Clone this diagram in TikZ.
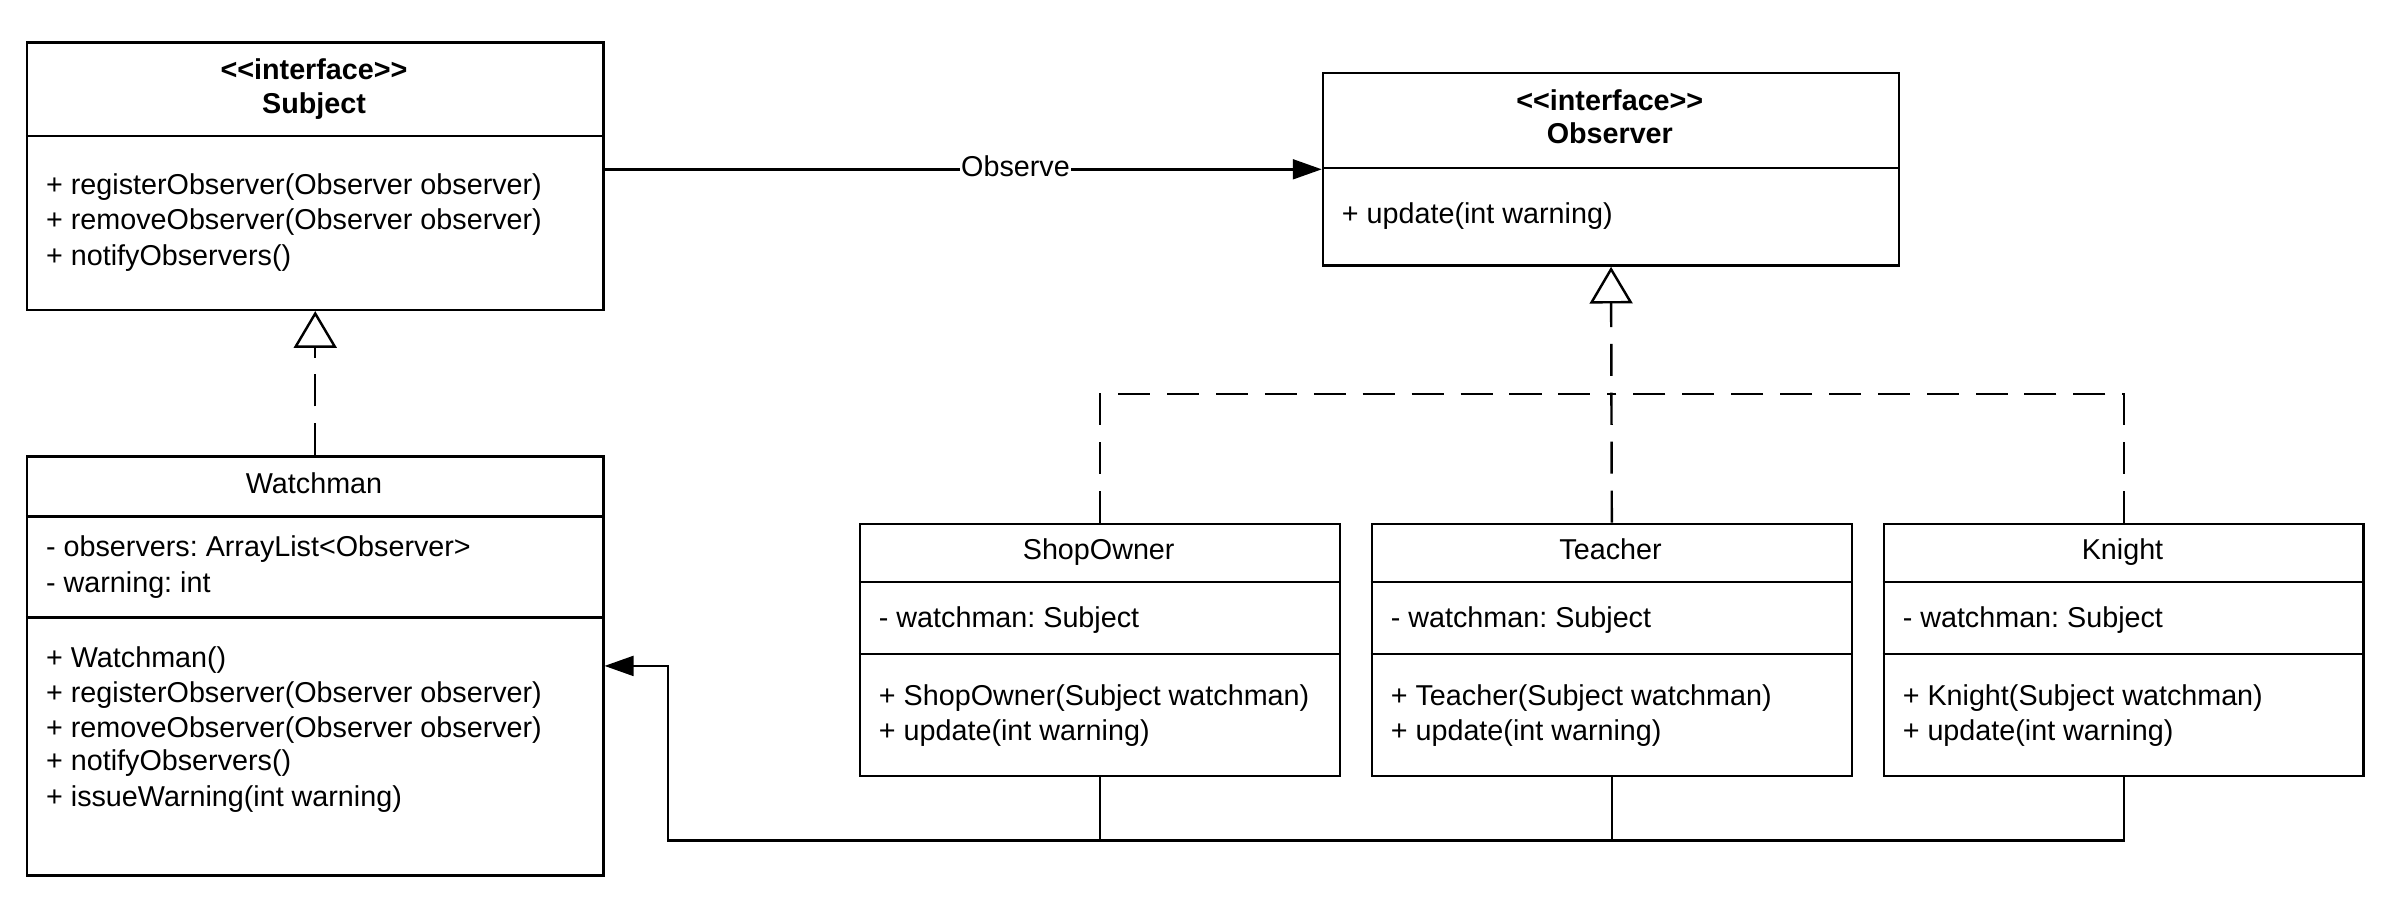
\documentclass[tikz,border=0pt]{standalone}
\usepackage{fontspec}
\setmainfont{Liberation Sans}
\usetikzlibrary{arrows.meta}
\frenchspacing
\begin{document}
\begin{tikzpicture}[x=1pt,y=-1pt,
  classbox/.style={draw, line width=1.6pt, rectangle, inner sep=0pt, anchor=north west},
  divider/.style={line width=1.6pt},
  txt/.style={anchor=base west, inner sep=0pt, font=\fontsize{18.8}{23}\selectfont},
  ttl/.style={anchor=base, inner sep=0pt, font=\fontsize{18.8}{23}\selectfont},
  ttlb/.style={anchor=base, inner sep=0pt, font=\fontsize{18.8}{23}\selectfont\bfseries},
  assoc/.style={line width=1.6pt, -{Triangle[length=19pt,width=13pt]}},
  real/.style={line width=1.6pt, dash pattern=on 21pt off 11pt, -{Triangle[open,length=24pt,width=28pt,fill=white]}},
  realline/.style={line width=1.6pt, dash pattern=on 21pt off 11pt},
  plain/.style={line width=1.6pt}
]
\useasboundingbox (0,0) rectangle (1568,594);

% Subject
\node[classbox, minimum width=377pt, minimum height=175pt] (subject) at (17,27) {};
\draw[divider] (17,89) -- (394,89);
\node[ttlb] (subjst) at (205.5,52) {{<}{<}interface{>}{>}};
\node[ttlb] (subjname) at (205.5,74) {Subject};
\node[txt] (subjm1) at (30,127.5) {+ registerObserver(Observer observer)};
\node[txt] (subjm2) at (30,150.5) {+ removeObserver(Observer observer)};
\node[txt] (subjm3) at (30,173.5) {+ notifyObservers()};

% Observer
\node[classbox, minimum width=377pt, minimum height=126pt] (observer) at (865,47) {};
\draw[divider] (865,110) -- (1242,110);
\node[ttlb] (obsst) at (1053.5,72) {{<}{<}interface{>}{>}};
\node[ttlb] (obsname) at (1053.5,94) {Observer};
\node[txt] (obsm1) at (878,146.5) {+ update(int warning)};

% Watchman
\node[classbox, minimum width=377pt, minimum height=274pt] (watchman) at (17,298) {};
\draw[divider] (17,338) -- (394,338);
\draw[divider] (17,404) -- (394,404);
\node[ttl] (wname) at (205.5,323) {Watchman};
\node[txt] (wa1) at (30,364.5) {- observers: ArrayList<Observer>};
\node[txt] (wa2) at (30,387.5) {- warning: int};
\node[txt] (wm1) at (30,436.5) {+ Watchman()};
\node[txt] (wm2) at (30,459.5) {+ registerObserver(Observer observer)};
\node[txt] (wm3) at (30,482.5) {+ removeObserver(Observer observer)};
\node[txt] (wm4) at (30,504.5) {+ notifyObservers()};
\node[txt] (wm5) at (30,527.5) {+ issueWarning(int warning)};

% ShopOwner
\node[classbox, minimum width=314pt, minimum height=165pt] (shopowner) at (562,342) {};
\draw[divider] (562,381) -- (876,381);
\draw[divider] (562,428) -- (876,428);
\node[ttl] (sname) at (719,366) {ShopOwner};
\node[txt] (sa1) at (575,410.5) {- watchman: Subject};
\node[txt] (sm1) at (575,461.5) {+ ShopOwner(Subject watchman)};
\node[txt] (sm2) at (575,484.5) {+ update(int warning)};

% Teacher
\node[classbox, minimum width=314pt, minimum height=165pt] (teacher) at (897,342) {};
\draw[divider] (897,381) -- (1211,381);
\draw[divider] (897,428) -- (1211,428);
\node[ttl] (tname) at (1054,366) {Teacher};
\node[txt] (ta1) at (910,410.5) {- watchman: Subject};
\node[txt] (tm1) at (910,461.5) {+ Teacher(Subject watchman)};
\node[txt] (tm2) at (910,484.5) {+ update(int warning)};

% Knight
\node[classbox, minimum width=314pt, minimum height=165pt] (knight) at (1232,342) {};
\draw[divider] (1232,381) -- (1546,381);
\draw[divider] (1232,428) -- (1546,428);
\node[ttl] (kname) at (1389,366) {Knight};
\node[txt] (ka1) at (1245,410.5) {- watchman: Subject};
\node[txt] (km1) at (1245,461.5) {+ Knight(Subject watchman)};
\node[txt] (km2) at (1245,484.5) {+ update(int warning)};

% Observe association
\draw[assoc] (subject.east |- observer.west) -- node[pos=0.573, yshift=2pt, fill=white, inner sep=1pt, font=\fontsize{18.8}{23}\selectfont] (obslbl) {Observe} (observer.west);

% Realizations
\draw[real] (watchman.north) -- (subject.south);
\draw[real] (teacher.north) -- (observer.south);
\coordinate (hub) at (1054,258);
\draw[realline] (shopowner.north) |- (hub);
\draw[realline] (knight.north) |- (hub);

% Associations to Watchman
\coordinate (bus) at (437,550);
\draw[assoc] (knight.south) |- (bus) |- (watchman.east);
\draw[plain] (shopowner.south) -- (shopowner.south |- bus);
\draw[plain] (teacher.south) -- (teacher.south |- bus);
\end{tikzpicture}
\end{document}
